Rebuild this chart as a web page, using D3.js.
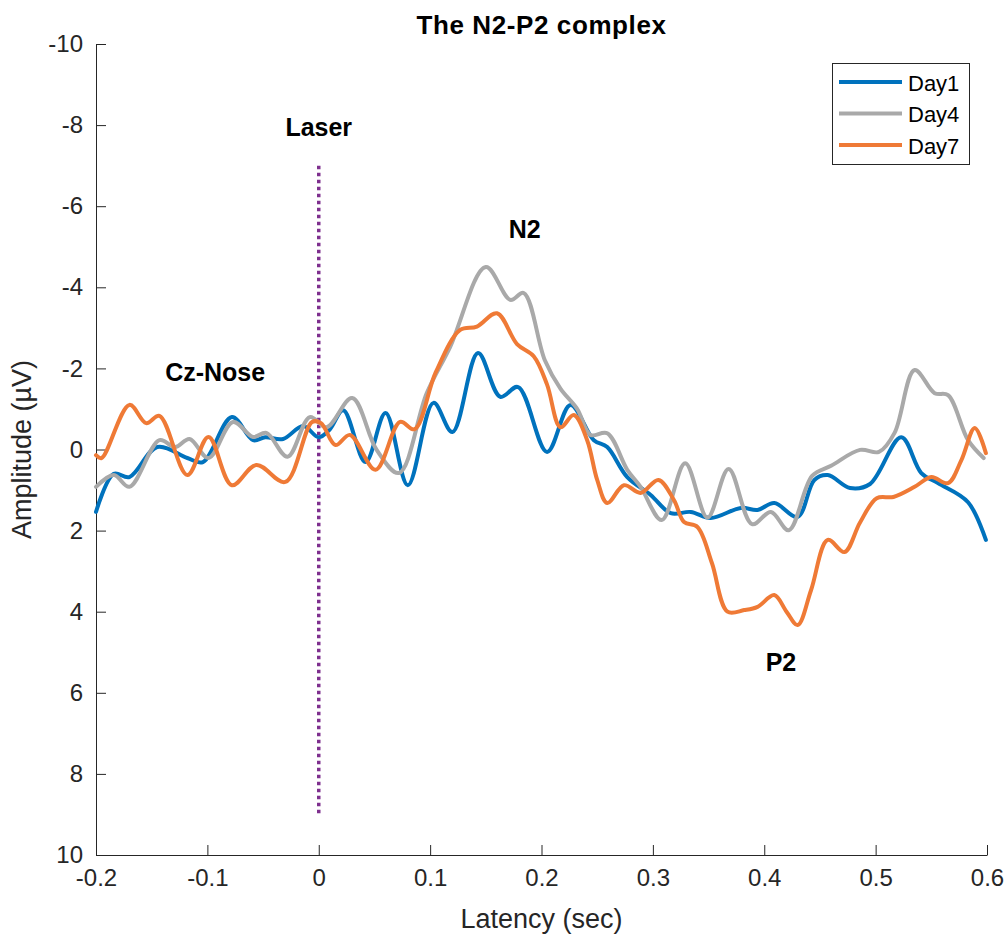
<!DOCTYPE html>
<html>
<head>
<meta charset="utf-8">
<script src="https://cdn.jsdelivr.net/npm/d3@7"></script>
<style>
  body { margin: 0; background: #fff; }
  svg { display: block; font-family: "Liberation Sans", Arial, sans-serif; }
</style>
</head>
<body>
<svg id="chart" width="1007" height="938"></svg>
<script>
// ---- data (latency in sec, amplitude in µV) ----
const seriesNames = ["Day1", "Day4", "Day7"];
const seriesColors = ["#0072BD", "#A9A9A9", "#EF7A36"];

const day1 = [[-0.2,1.54],[-0.184,0.6],[-0.17,0.68],[-0.145,-0.06],[-0.118,0.21],[-0.104,0.31],[-0.078,-0.8],[-0.059,-0.23],[-0.048,-0.3],[-0.032,-0.26],[-0.014,-0.58],[0,-0.3],[0.01,-0.5],[0.022,-0.97],[0.042,0.31],[0.06,-0.9],[0.08,0.88],[0.103,-1.15],[0.12,-0.43],[0.143,-2.38],[0.163,-1.3],[0.179,-1.54],[0.205,0.06],[0.226,-1.1],[0.247,-0.23],[0.259,-0.06],[0.277,0.68],[0.298,1.12],[0.316,1.57],[0.334,1.54],[0.352,1.69],[0.379,1.44],[0.394,1.49],[0.409,1.32],[0.43,1.66],[0.445,0.75],[0.457,0.63],[0.477,0.95],[0.495,0.85],[0.523,-0.3],[0.541,0.58],[0.556,0.83],[0.583,1.3],[0.599,2.23]];

const day4 = [[-0.2,0.92],[-0.184,0.63],[-0.17,0.92],[-0.143,-0.23],[-0.129,-0.06],[-0.116,-0.26],[-0.099,0.21],[-0.077,-0.68],[-0.059,-0.31],[-0.047,-0.41],[-0.028,0.18],[-0.008,-0.8],[0.007,-0.55],[0.03,-1.27],[0.052,0.01],[0.072,0.58],[0.097,-1.39],[0.118,-2.53],[0.15,-4.5],[0.172,-3.69],[0.184,-3.86],[0.203,-2.2],[0.217,-1.5],[0.232,-1.0],[0.244,-0.36],[0.259,-0.4],[0.277,0.5],[0.289,0.92],[0.308,1.74],[0.329,0.34],[0.349,1.68],[0.368,0.48],[0.389,1.84],[0.406,1.54],[0.422,1.99],[0.443,0.65],[0.46,0.4],[0.486,0.01],[0.503,0.06],[0.517,-0.41],[0.535,-1.96],[0.553,-1.39],[0.565,-1.34],[0.583,-0.23],[0.597,0.21]];

const day7 = [[-0.2,0.14],[-0.195,0.21],[-0.17,-1.1],[-0.155,-0.65],[-0.143,-0.83],[-0.118,0.63],[-0.099,-0.31],[-0.078,0.88],[-0.056,0.38],[-0.03,0.8],[-0.006,-0.68],[0.002,-0.65],[0.015,-0.11],[0.028,-0.36],[0.051,0.5],[0.073,-0.68],[0.086,-0.5],[0.105,-1.9],[0.127,-2.95],[0.142,-3.03],[0.16,-3.36],[0.178,-2.6],[0.193,-2.3],[0.205,-1.6],[0.217,-0.55],[0.229,-0.85],[0.241,-0.23],[0.25,0.75],[0.259,1.32],[0.274,0.88],[0.289,1.07],[0.305,0.75],[0.319,1.25],[0.328,1.79],[0.34,1.91],[0.353,2.8],[0.367,4.0],[0.382,3.96],[0.394,3.88],[0.409,3.59],[0.42,4.0],[0.43,4.33],[0.442,3.47],[0.457,2.23],[0.472,2.53],[0.486,1.8],[0.501,1.2],[0.516,1.17],[0.535,0.92],[0.55,0.68],[0.565,0.83],[0.577,0.26],[0.589,-0.53],[0.599,0.09]];

const xTicks = [-0.2,-0.1,0,0.1,0.2,0.3,0.4,0.5,0.6];
const yTicks = [-10,-8,-6,-4,-2,0,2,4,6,8,10];
const laserRange = [-7, 9];
const annotations = [
  {text: "Laser",   x: 0,      y: -7.95},
  {text: "N2",      x: 0.185,  y: -5.45},
  {text: "Cz-Nose", x: -0.093, y: -1.9},
  {text: "P2",      x: 0.415,  y: 5.25}
];

// ---- layout ----
const svg = d3.select("#chart");
const L = 96, R = 987, T = 44, B = 855;
const x = d3.scaleLinear().domain([-0.2, 0.6]).range([L, R]);
const y = d3.scaleLinear().domain([-10, 10]).range([T, B]);
const axisColor = "#262626";
const FONT = "'Liberation Sans', Arial, sans-serif";

// axes
const xAxis = d3.axisBottom(x).tickValues(xTicks).tickSizeInner(-10).tickSizeOuter(0).tickPadding(14)
  .tickFormat(d => String(+d.toFixed(1)));
const yAxis = d3.axisLeft(y).tickValues(yTicks).tickSizeInner(-10).tickSizeOuter(0).tickPadding(13)
  .tickFormat(d => String(d));

const gx = svg.append("g").attr("transform", `translate(0,${B})`).call(xAxis);
const gy = svg.append("g").attr("transform", `translate(${L},0)`).call(yAxis);
[gx, gy].forEach(g => {
  g.select(".domain").attr("stroke", axisColor).attr("stroke-width", 1);
  g.selectAll(".tick line").attr("stroke", axisColor);
  g.selectAll(".tick text").attr("fill", axisColor).style("font-size", "24px")
    .style("font-family", FONT);
});

// laser line
svg.append("line")
  .attr("x1", x(0)).attr("x2", x(0))
  .attr("y1", y(laserRange[0])).attr("y2", y(laserRange[1]))
  .attr("stroke", "#7E2F8E").attr("stroke-width", 3.5)
  .attr("stroke-dasharray", "3.5,3.5");

// lines
const line = d3.line().x(d => x(d[0])).y(d => y(d[1])).curve(d3.curveCatmullRom.alpha(0.5));
const allSeries = [day1, day4, day7];
allSeries.forEach((s, i) => {
  svg.append("path").datum(s)
    .attr("d", line)
    .attr("fill", "none")
    .attr("stroke", seriesColors[i])
    .attr("stroke-width", 4)
    .attr("stroke-linejoin", "round")
    .attr("stroke-linecap", "round");
});

// annotations
annotations.forEach(a => {
  svg.append("text").attr("x", x(a.x)).attr("y", y(a.y))
    .attr("text-anchor", "middle").attr("dominant-baseline", "central")
    .style("font-size", "25px").style("font-weight", "bold").attr("fill", "#000")
    .text(a.text);
});

// title
svg.append("text").attr("x", (L + R) / 2).attr("y", 25)
  .attr("text-anchor", "middle").attr("dominant-baseline", "central")
  .style("font-size", "26px").style("font-weight", "bold").style("letter-spacing", "0.6px")
  .attr("fill", "#000")
  .text("The N2-P2 complex");

// axis labels
svg.append("text").attr("x", (L + R) / 2).attr("y", 919)
  .attr("text-anchor", "middle").attr("dominant-baseline", "central")
  .style("font-size", "27px").attr("fill", axisColor)
  .text("Latency (sec)");
svg.append("text").attr("transform", `translate(22,${(T + B) / 2}) rotate(-90)`)
  .attr("text-anchor", "middle").attr("dominant-baseline", "central")
  .style("font-size", "27px").attr("fill", axisColor)
  .text("Amplitude (µV)");

// legend
const lg = svg.append("g");
lg.append("rect").attr("x", 832.5).attr("y", 63.5).attr("width", 137).attr("height", 101)
  .attr("fill", "#fff").attr("stroke", axisColor).attr("stroke-width", 1);
seriesNames.forEach((n, i) => {
  const yy = 82 + i * 31.5;
  lg.append("line").attr("x1", 839).attr("x2", 902).attr("y1", yy).attr("y2", yy)
    .attr("stroke", seriesColors[i]).attr("stroke-width", 4);
  lg.append("text").attr("x", 908).attr("y", yy + 1).attr("dominant-baseline", "central")
    .style("font-size", "22px").attr("fill", "#000").text(n);
});
</script>
</body>
</html>
